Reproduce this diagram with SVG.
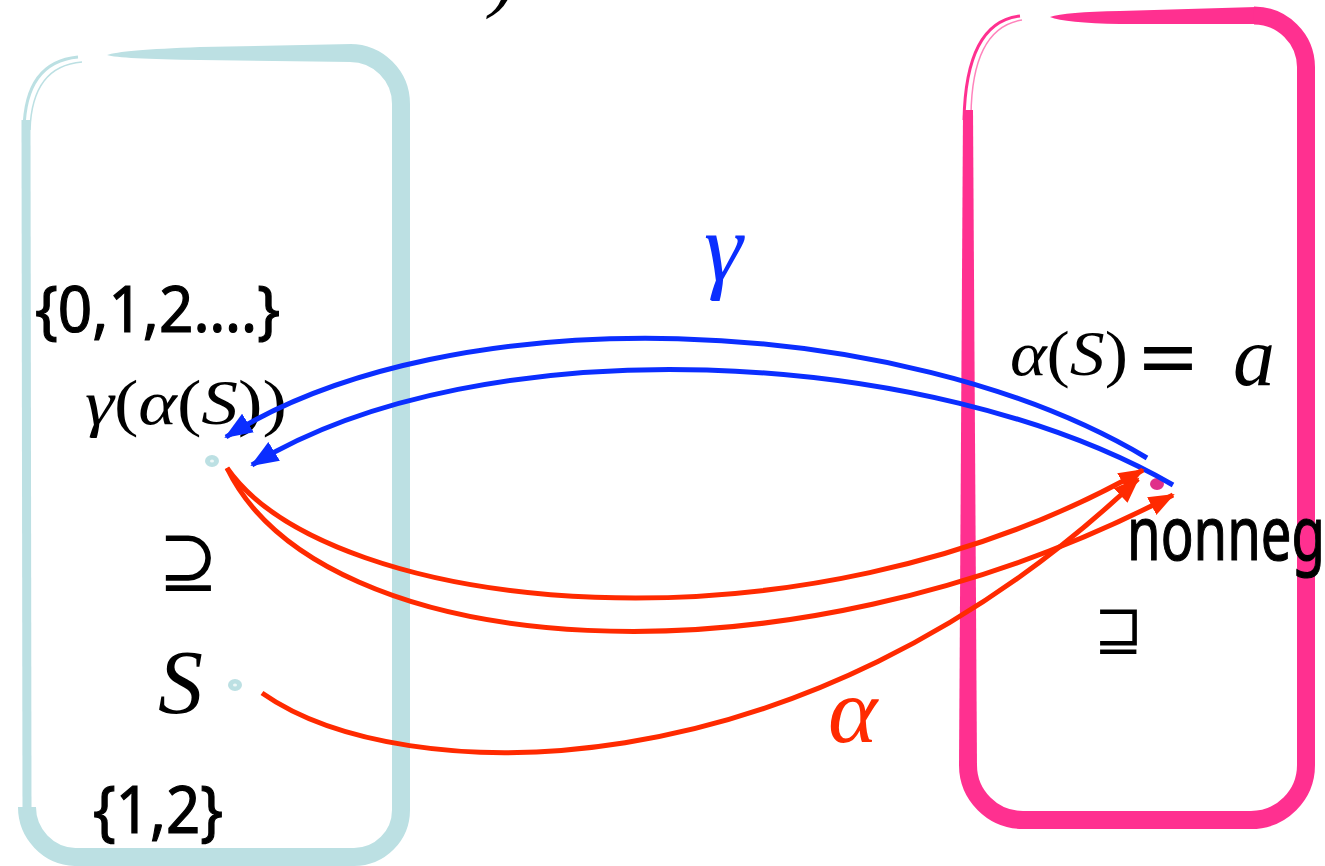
<svg xmlns="http://www.w3.org/2000/svg" width="1325" height="866" viewBox="0 0 1325 866">
<defs>
<style>
.hand{font-family:"Noto Sans","DejaVu Sans",sans-serif;fill:#000;stroke:#000;stroke-width:1.2}
.math{font-family:"Liberation Serif","DejaVu Serif",serif;fill:#000}
.it{font-style:italic}
.sym{font-family:"DejaVu Serif","DejaVu Sans",serif;fill:#000}
.blue{fill:none;stroke:#0B2EFF;stroke-width:5;marker-end:url(#ab)}
.red{fill:none;stroke:#FF2A00;stroke-width:5;marker-end:url(#ar)}
.teal{fill:none;stroke:#BCE0E3}
.pink{fill:none;stroke:#FF3090}
</style>
<marker id="ab" markerUnits="userSpaceOnUse" markerWidth="30" markerHeight="24" refX="26" refY="11" orient="auto"><path d="M0,0 L28,11 L0,22 Z" fill="#0B2EFF"/></marker>
<marker id="ar" markerUnits="userSpaceOnUse" markerWidth="30" markerHeight="24" refX="24" refY="10" orient="auto"><path d="M0,0 L26,10 L0,20 Z" fill="#FF2A00"/></marker>
</defs>
<rect width="1325" height="866" fill="#fff"/>
<text class="math it" x="490" y="2" font-size="80">)</text>

<g id="left-box">
<path d="M107,55 Q120,50 200,47 L352,44 L352,62 L200,60 Q120,59 107,55 Z" fill="#BCE0E3"/>
<path class="teal" stroke-width="18" d="M350,53 A51,51 0 0 1 401,104 L401,810 A47,47 0 0 1 354,857 L75,857 A50,50 0 0 1 27,807"/>
<path class="teal" stroke-width="9" d="M27,812 L26,120"/>
<path class="teal" stroke-width="3" d="M24,130 Q25,62 78,57"/>
<path class="teal" stroke-width="1.5" d="M30,130 Q32,66 82,62"/>
</g>

<g id="right-box">
<path d="M1050,17 Q1065,12 1120,11 L1256,7 L1256,24 L1120,24 Q1065,23 1050,17 Z" fill="#FF3090"/>
<path class="pink" stroke-width="18" d="M1254,15.5 A52,52 0 0 1 1306,67 L1306,765 A55,55 0 0 1 1251,820 L1023,820 A55,55 0 0 1 968,765"/>
<path d="M959,766 L963,110 L973,110 L977,766 Z" fill="#FF3090"/>
<path class="pink" stroke-width="3" d="M964,120 Q966,22 1020,16"/>
<path class="pink" stroke-width="1.5" opacity="0.6" d="M971,115 Q972,28 1022,20"/>
</g>

<g id="node-gamma-alpha-s">
<text class="hand" x="35" y="332" font-size="64" textLength="245" lengthAdjust="spacingAndGlyphs">{0,1,2….}</text>
<text class="math" x="85" y="424" font-size="64" textLength="202" lengthAdjust="spacingAndGlyphs"><tspan class="it">γ</tspan>(<tspan class="it">α</tspan>(<tspan class="it">S</tspan>))</text>
<ellipse cx="212" cy="461" rx="7" ry="6" fill="#BCE0E3"/>
<ellipse cx="212" cy="461" rx="2" ry="1.5" fill="#eef8f8"/>
</g>

<g id="node-supseteq">
<text class="sym" x="158" y="586" font-size="72">⊇</text>
</g>

<g id="node-s">
<text class="math it" x="158" y="713" font-size="90">S</text>
<ellipse cx="235" cy="685" rx="7" ry="6" fill="#BCE0E3"/>
<ellipse cx="235" cy="685" rx="2" ry="1.5" fill="#eef8f8"/>
<text class="hand" x="93" y="833" font-size="66" textLength="130" lengthAdjust="spacingAndGlyphs">{1,2}</text>
</g>

<g id="node-a">
<text class="math" x="1010" y="375" font-size="64" textLength="118" lengthAdjust="spacingAndGlyphs"><tspan class="it">α</tspan>(<tspan class="it">S</tspan>)</text>
<text class="sym" x="1136" y="384" font-size="82" textLength="64" lengthAdjust="spacingAndGlyphs">=</text>
<text class="math it" x="1233" y="385" font-size="84">a</text>
<ellipse cx="1157" cy="484" rx="7" ry="6" fill="#E0308A"/>
<text class="hand" x="1127" y="560" font-size="74" textLength="198" lengthAdjust="spacingAndGlyphs">nonneg</text>
</g>

<g id="node-sqsupseteq">
<text class="sym" x="1094" y="650" font-size="58">⊒</text>
</g>

<g id="connectors">
<path class="blue" d="M1147,458 C900,310 450,295 226,437"/>
<path class="blue" d="M1173,485 C930,345 480,325 252,465"/>
<path class="red" d="M227,468 C330,615 800,665 1143,470"/>
<path class="red" d="M227,468 C320,660 780,700 1173,495"/>
<path class="red" d="M262,693 C400,790 800,800 1138,479"/>
<text x="704" y="280" font-family="Liberation Serif,DejaVu Serif,serif" font-style="italic" font-size="98" fill="#0B2EFF">γ</text>
<text x="828" y="742" font-family="Liberation Serif,DejaVu Serif,serif" font-style="italic" font-size="94" fill="#FF2A00">α</text>
</g>
</svg>
